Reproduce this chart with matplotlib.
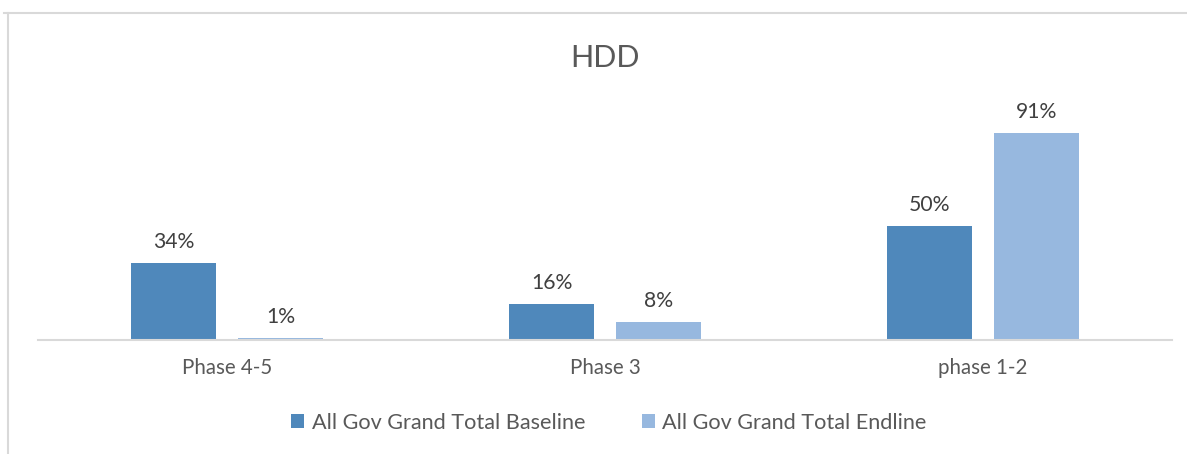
import numpy as np
import matplotlib.pyplot as plt
from matplotlib.lines import Line2D

plt.rcParams['font.family'] = ['Lato', 'DejaVu Sans']

categories = ["Phase 4-5", "Phase 3", "phase 1-2"]
baseline = [0.34, 0.16, 0.50]
endline = [0.01, 0.08, 0.91]
series_names = ["All Gov Grand Total Baseline", "All Gov Grand Total Endline"]

c_base = "#4F88BB"
c_end = "#97B8DF"

fig = plt.figure(figsize=(11.87, 4.54), dpi=100)
ax = fig.add_axes([38/1187, 114/454, 1134/1187, 227.5/454])

x = np.arange(len(categories))
w = 0.225
off = 0.1415
b1 = ax.bar(x - off, baseline, w, color=c_base, label=series_names[0])
b2 = ax.bar(x + off, endline, w, color=c_end, label=series_names[1])

for bars, vals in ((b1, baseline), (b2, endline)):
    for r, v in zip(bars, vals):
        ax.annotate(f"{v*100:.0f}%", (r.get_x() + r.get_width()/2, v),
                    xytext=(0, 11), textcoords="offset pixels",
                    ha="center", va="bottom", fontsize=15.2, color="#404040")

ax.set_xlim(-0.5, 2.5)
ax.set_ylim(0, 1.0)
ax.set_yticks([])
ax.set_xticks(x)
ax.set_xticklabels(categories, fontsize=14.8, color="#595959")
ax.tick_params(axis="x", length=0, pad=13)
for s in ("top", "right", "left"):
    ax.spines[s].set_visible(False)
ax.spines["bottom"].set_color("#D9D9D9")
ax.spines["bottom"].set_linewidth(1.5)

fig.text(605/1187, 1 - 58/454, "HDD", ha="center", va="center",
         fontsize=22, color="#595959")

fig.legend(handles=[b1, b2], loc="center", bbox_to_anchor=(609/1187, 1 - 423/454),
           ncol=2, frameon=False, fontsize=15.6, labelcolor="#595959",
           handlelength=0.6, handleheight=0.6, handletextpad=0.35,
           columnspacing=2.6)

# outer chart border (top and left edges)
fig.add_artist(Line2D([4/1187, 1], [1 - 12.5/454] * 2, transform=fig.transFigure,
                      color="#D9D9D9", lw=1.5))
fig.add_artist(Line2D([8/1187] * 2, [0, 1 - 12.5/454], transform=fig.transFigure,
                      color="#D9D9D9", lw=1.5))

fig.savefig("out.png", dpi=100)
